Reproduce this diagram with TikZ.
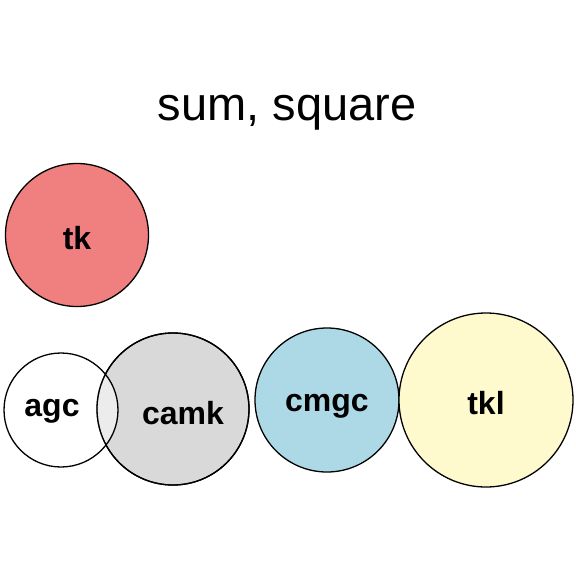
\documentclass[tikz,border=0pt]{standalone}
\usepackage{fontspec}
\setmainfont{Liberation Sans}
\definecolor{cTk}{HTML}{F08080}
\definecolor{cCamk}{HTML}{D9D9D9}
\definecolor{cCmgc}{HTML}{ADD8E6}
\definecolor{cTkl}{HTML}{FFFACD}
\begin{document}
\begin{tikzpicture}[x=1pt,y=-1pt,
  lbl/.style={font=\fontsize{32}{34}\selectfont\bfseries},
  venn/.style={circle, draw=black, line width=1.3pt, inner sep=0pt, lbl},
  ttl/.style={font=\fontsize{47}{50}\selectfont}]
\useasboundingbox (0,0) rectangle (576,576);
\node[ttl] (title) at (287,113) {sum, square};
\node[venn, fill=cTk, minimum size=143pt, label={[lbl, yshift=-3pt]center:tk}] (tk) at (77,235) {};
\node[venn, fill=cCamk, minimum size=152pt, label={[lbl, xshift=10pt, yshift=-4pt]center:camk}] (camk) at (173,409) {};
\node[venn, fill=white, fill opacity=0.5, text opacity=1, minimum size=114pt, label={[lbl, xshift=-9pt, yshift=-1pt]center:agc}] (agc) at (61,410) {};
\draw[line width=1.3pt] (camk) circle (76pt);
\node[venn, fill=cCmgc, minimum size=144pt, label={[lbl, yshift=-6pt]center:cmgc}] (cmgc) at (327,400) {};
\node[venn, fill=cTkl, minimum size=174pt, label={[lbl, yshift=-3pt]center:tkl}] (tkl) at (486,400) {};
\end{tikzpicture}
\end{document}
